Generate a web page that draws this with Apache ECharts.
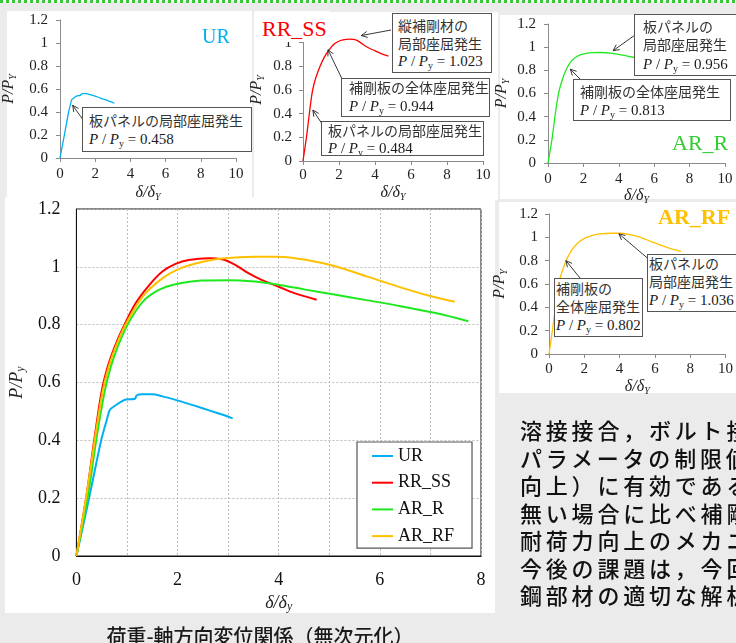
<!DOCTYPE html>
<html lang="ja">
<head>
<meta charset="utf-8">
<title>荷重-軸方向変位関係（無次元化）</title>
<script src="https://cdn.jsdelivr.net/npm/echarts@6/dist/echarts.min.js"></script>
<style>
  html, body { margin:0; padding:0; width:736px; height:643px; overflow:hidden; background:#ebebeb; }
  #stripe { position:absolute; left:0; top:0; width:736px; height:3px;
    background: repeating-linear-gradient(90deg, #38c838 0 3.5px, #ffffff 3.5px 6px); }
  .panel { position:absolute; background:#fff; }
  #chart { position:absolute; left:0; top:0; width:736px; height:643px; z-index:1; }
  .over { position:absolute; z-index:2; white-space:nowrap; }
  .box { background:#fff; border:1.5px solid #555; box-sizing:border-box; overflow:hidden;
         font-family:"Noto Sans CJK JP"; font-size:14px; line-height:17.5px; color:#333; }
  .eq { font-family:"Liberation Serif"; font-size:15px; color:#1a1a1a; }
  .eq sub { font-size:10px; vertical-align:-3px; line-height:0; }
  .ttl { font-family:"Liberation Serif"; font-size:22px; line-height:26px; }
  #caption { left:100px; top:623px; width:320px; text-align:center; font-family:"Noto Sans CJK JP";
             font-size:20px; line-height:26px; color:#1a1a1a; font-weight:500; }
  #para { left:520px; top:416px; font-family:"Noto Sans CJK JP"; font-size:22px; line-height:27.5px;
          letter-spacing:3.8px; color:#111; font-weight:500; }
</style>
</head>
<body>
<div id="stripe"></div>
<div class="panel" style="left:7px;top:11px;width:245px;height:190px"></div>
<div class="panel" style="left:254px;top:12px;width:244px;height:188px"></div>
<div class="panel" style="left:500px;top:15px;width:236px;height:184px"></div>
<div class="panel" style="left:5px;top:197px;width:490px;height:416px"></div>
<div class="panel" style="left:499px;top:202px;width:237px;height:191px"></div>

<div id="chart"></div>

<!-- series titles -->
<div class="over ttl" style="left:202px;top:23px;font-size:20px;color:#00B0F0">UR</div>
<div class="over ttl" style="left:255px;top:11px;width:75px;height:31px;background:#fff;color:#FF0000;padding-left:7px;box-sizing:border-box;line-height:36px">RR_SS</div>
<div class="over ttl" style="left:672px;top:130px;color:#33CC33">AR_R</div>
<div class="over ttl" style="left:658px;top:204px;color:#FFC000;font-weight:bold">AR_RF</div>

<!-- annotation boxes -->
<div class="over box" style="left:82px;top:107px;width:170px;height:45px;padding:4px 0 0 6px">板パネルの局部座屈発生<br><span class="eq"><i>P</i> / <i>P</i><sub>y</sub> = 0.458</span></div>

<div class="over box" style="left:392px;top:13px;width:100px;height:60px;padding:3px 0 0 5px">縦補剛材の<br>局部座屈発生<br><span class="eq"><i>P</i> / <i>P</i><sub>y</sub> = 1.023</span></div>
<div class="over box" style="left:341px;top:78px;width:149px;height:39px;padding:0 0 0 7px">補剛板の全体座屈発生<br><span class="eq"><i>P</i> / <i>P</i><sub>y</sub> = 0.944</span></div>
<div class="over box" style="left:321px;top:121px;width:163px;height:35px;padding:0 0 0 6px;line-height:16.5px">板パネルの局部座屈発生<br><span class="eq"><i>P</i> / <i>P</i><sub>y</sub> = 0.484</span></div>

<div class="over box" style="left:634px;top:14px;width:110px;height:62px;padding:2px 0 0 8px;line-height:18.3px">板パネルの<br>局部座屈発生<br><span class="eq"><i>P</i> / <i>P</i><sub>y</sub> = 0.956</span></div>
<div class="over box" style="left:573px;top:79px;width:158px;height:42px;padding:2px 0 0 6px;line-height:18px">補剛板の全体座屈発生<br><span class="eq"><i>P</i> / <i>P</i><sub>y</sub> = 0.813</span></div>

<div class="over box" style="left:554px;top:278px;width:89px;height:59px;padding:1px 0 0 1px;line-height:17.9px">補剛板の<br>全体座屈発生<br><span class="eq"><i>P</i> / <i>P</i><sub>y</sub> = 0.802</span></div>
<div class="over box" style="left:647px;top:254px;width:100px;height:58px;padding:0 0 0 1px;line-height:17.9px">板パネルの<br>局部座屈発生<br><span class="eq"><i>P</i> / <i>P</i><sub>y</sub> = 1.036</span></div>

<div id="caption" class="over">荷重-軸方向変位関係（無次元化）</div>
<div id="para" class="over">溶接接合，ボルト接合<br>パラメータの制限値<br>向上）に有効である<br>無い場合に比べ補剛<br>耐荷力向上のメカニズム<br>今後の課題は，今回<br>鋼部材の適切な解析</div>

<script>
// Load ratio P/Py versus displacement ratio δ/δy for the four specimens
const seriesNames = ['UR', 'RR_SS', 'AR_R', 'AR_RF'];
const seriesColors = ['#00B0F0', '#FF0000', '#1EE81E', '#FFC000'];

const urCurve = [[0,0],[0.25,0.2],[0.49,0.4],[0.6,0.47],[0.66,0.505],[0.75,0.518],[0.88,0.533],[0.98,0.541],
  [1.16,0.544],[1.19,0.555],[1.3,0.559],[1.5,0.559],[1.7,0.552],[1.96,0.54],[2.22,0.526],[2.48,0.512],
  [2.74,0.497],[2.95,0.485],[3.09,0.476]];
const rrssCurve = [[0,0],[0.2,0.21],[0.36,0.41],[0.5,0.57],[0.62,0.655],[0.76,0.725],[0.95,0.8],[1.17,0.874],
  [1.44,0.937],[1.7,0.984],[1.96,1.01],[2.22,1.024],[2.62,1.03],[2.88,1.026],[3.14,1.007],[3.4,0.978],
  [3.66,0.955],[3.99,0.932],[4.31,0.909],[4.75,0.886]];
const arrCurve = [[0,0],[0.23,0.21],[0.4,0.41],[0.56,0.57],[0.68,0.655],[0.82,0.725],[1.01,0.8],[1.31,0.879],
  [1.63,0.92],[1.96,0.94],[2.48,0.953],[3.0,0.954],[3.53,0.949],[3.99,0.938],[4.5,0.922],[5.1,0.904],
  [5.76,0.884],[6.41,0.864],[7.1,0.84],[7.75,0.812]];
const arrfCurve = [[0,0],[0.2,0.21],[0.37,0.41],[0.52,0.57],[0.64,0.655],[0.78,0.725],[0.97,0.8],[1.31,0.897],
  [1.7,0.96],[2.09,0.997],[2.48,1.017],[2.88,1.029],[3.53,1.035],[3.99,1.035],[4.58,1.023],[5.1,1.003],
  [5.76,0.966],[6.41,0.929],[6.94,0.902],[7.48,0.879]];
const curves = [urCurve, rrssCurve, arrCurve, arrfCurve];

// axis ranges and tick labels
const mainXTicks = [0, 2, 4, 6, 8];
const smallXTicks = [0, 2, 4, 6, 8, 10];

// annotation arrows: tail in page pixels, tip in data units of the small plot it points into
const arrowGrids = [1, 2, 2, 2, 3, 3, 4, 4];
const arrowTips = [[0.72,0.458],[3.24,1.06],[1.39,0.94],[0.55,0.43],[3.68,0.97],[1.26,0.81],[0.96,0.80],[3.96,1.03]];
const arrowTails = [[82.7,119.3],[391,30],[341.7,78.3],[321.7,123.3],[635,35],[580,79],[580,278],[647,257.7]];

const serif = 'Liberation Serif';
const axisGray = '#8a8a8a';
const subRich = (size) => ({
  i: { fontFamily: serif, fontStyle: 'italic', fontSize: size, color: '#222', lineHeight: size + 2 },
  s: { fontFamily: serif, fontStyle: 'italic', fontSize: Math.round(size * 0.65), color: '#222',
       lineHeight: 6, verticalAlign: 'bottom' }
});

const chart = echarts.init(document.getElementById('chart'), null, { renderer: 'canvas' });

// plot layouts: main comparison chart, then UR, RR_SS, AR_R, AR_RF
const grids = [
  { left: 73, top: 209, width: 408, height: 347, show: true, borderColor: '#111', borderWidth: 1 },
  { left: 57, top: 20, width: 179, height: 138 },
  { left: 303, top: 19, width: 180, height: 142 },
  { left: 548, top: 24, width: 177, height: 139 },
  { left: 549, top: 214, width: 182, height: 140 }
];
const smallLayout = [
  null,
  { xm: 9, ym: 12, xg: 26, yg: 42 },
  { xm: 7, ym: 11, xg: 23, yg: 37 },
  { xm: 9, ym: 12, xg: 22, yg: 37 },
  { xm: 8, ym: 11, xg: 24, yg: 40 }
];

const xAxes = [{
  gridIndex: 0, type: 'value', min: 0, max: 8, interval: 1,
  axisLine: { show: true, lineStyle: { color: '#111' } },
  axisTick: { show: false },
  splitLine: { show: true, lineStyle: { color: '#bdbdbd', type: [2, 2] } },
  axisLabel: { fontFamily: serif, fontSize: 18, color: '#111', margin: 15,
    formatter: v => mainXTicks.includes(v) ? String(v) : '' },
  name: '{i|δ/δ}{s|y}', nameLocation: 'middle', nameGap: 35,
  nameTextStyle: { rich: subRich(18) }
}];
const yAxes = [{
  gridIndex: 0, type: 'value', min: 0, max: 1.2, interval: 0.2,
  axisLine: { show: true, lineStyle: { color: '#111' } },
  axisTick: { show: false },
  splitLine: { show: true, lineStyle: { color: '#bdbdbd', type: [2, 2] } },
  axisLabel: { fontFamily: serif, fontSize: 18, color: '#111', margin: 16 },
  name: '{i|P/P}{s|y}', nameLocation: 'middle', nameGap: 41,
  nameTextStyle: { rich: subRich(18) }
}];
for (let g = 1; g <= 4; g++) {
  const L = smallLayout[g];
  xAxes.push({
    gridIndex: g, type: 'value', min: 0, max: 10, interval: 2,
    axisLine: { show: true, lineStyle: { color: axisGray } },
    axisTick: { show: true, length: 4, lineStyle: { color: axisGray } },
    splitLine: { show: false },
    axisLabel: { fontFamily: serif, fontSize: 15, color: '#222', margin: L.xm,
      formatter: v => smallXTicks.includes(v) ? String(v) : '' },
    name: '{i|δ/δ}{s|Y}', nameLocation: 'middle', nameGap: L.xg,
    nameTextStyle: { rich: subRich(16) }
  });
  yAxes.push({
    gridIndex: g, type: 'value', min: 0, max: 1.2, interval: 0.2,
    axisLine: { show: true, lineStyle: { color: axisGray } },
    axisTick: { show: true, length: 4, lineStyle: { color: axisGray } },
    splitLine: { show: false },
    axisLabel: { fontFamily: serif, fontSize: 15, color: '#222', margin: L.ym },
    name: '{i|P/P}{s|Y}', nameLocation: 'middle', nameGap: L.yg,
    nameTextStyle: { rich: subRich(16) }
  });
}

const series = [];
seriesNames.forEach((name, k) => {
  series.push({
    name, type: 'line', xAxisIndex: 0, yAxisIndex: 0, data: curves[k],
    symbol: 'none', smooth: 0.3,
    color: seriesColors[k], lineStyle: { width: 2, color: seriesColors[k] }
  });
  series.push({
    name, type: 'line', xAxisIndex: k + 1, yAxisIndex: k + 1, data: curves[k],
    symbol: 'none', smooth: 0.3,
    color: seriesColors[k], lineStyle: { width: 1.3, color: seriesColors[k] }
  });
});

chart.setOption({
  animation: false,
  grid: grids,
  xAxis: xAxes,
  yAxis: yAxes,
  legend: {
    data: seriesNames, orient: 'vertical', left: 357, top: 442,
    icon: 'rect', itemWidth: 21, itemHeight: 2, itemGap: 6.7,
    padding: [4, 18, 2, 15], borderColor: '#555', borderWidth: 1.2, backgroundColor: '#fff',
    selectedMode: false,
    textStyle: { fontFamily: serif, fontSize: 18, color: '#111', lineHeight: 20 }
  },
  series
});

// annotation arrows drawn once the plot scales are known
const graphics = [];
arrowTips.forEach((tipData, k) => {
  const tip = chart.convertToPixel({ gridIndex: arrowGrids[k] }, tipData);
  const tail = arrowTails[k];
  const dx = tail[0] - tip[0], dy = tail[1] - tip[1];
  const len = Math.hypot(dx, dy), ux = dx / len, uy = dy / len;
  const hl = 6, hw = 3;
  const p1 = [tip[0] + ux * hl - uy * hw, tip[1] + uy * hl + ux * hw];
  const p2 = [tip[0] + ux * hl + uy * hw, tip[1] + uy * hl - ux * hw];
  graphics.push({ type: 'line', z: 50, shape: { x1: tail[0], y1: tail[1], x2: tip[0], y2: tip[1] },
    style: { stroke: '#222', lineWidth: 0.9 } });
  graphics.push({ type: 'polyline', z: 50, shape: { points: [p1, tip, p2] },
    style: { stroke: '#222', lineWidth: 0.9, fill: null } });
});
chart.setOption({ graphic: graphics });
</script>
</body>
</html>
